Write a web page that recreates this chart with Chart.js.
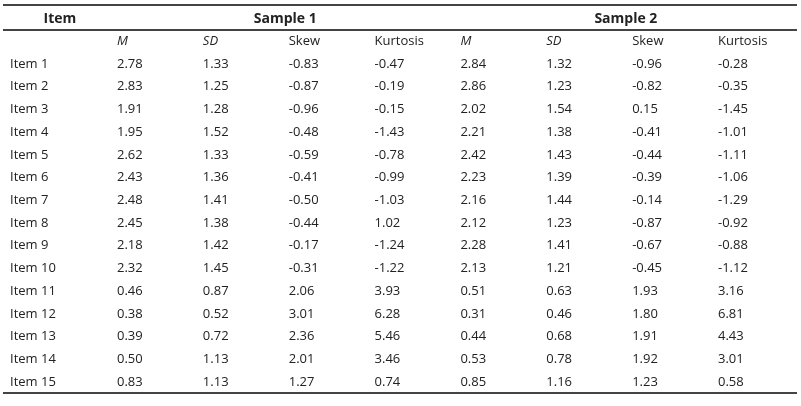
<!DOCTYPE html>
<html lang="en">
<head>
  <meta charset="UTF-8">
  <title>Item Statistics</title>
  <script src="https://cdn.jsdelivr.net/npm/chart.js"></script>
  <style>
    body {
      margin: 0;
      padding: 0;
      background: #ffffff;
    }

    .wrap {
      width: 801px;
      height: 406px;
      position: relative;
    }
  </style>
</head>
<body>
  <div class="wrap">
    <canvas id="tableChart"></canvas>
  </div>

  <script>
    // Row labels
    const items = ["Item 1", "Item 2", "Item 3", "Item 4", "Item 5", "Item 6", "Item 7", "Item 8",
      "Item 9", "Item 10", "Item 11", "Item 12", "Item 13", "Item 14", "Item 15"];

    // Column headers
    const groupHeaders = ["Sample 1", "Sample 2"];
    const statHeaders = ["M", "SD", "Skew", "Kurtosis"];

    // Sample 1
    const s1M = [2.78, 2.83, 1.91, 1.95, 2.62, 2.43, 2.48, 2.45, 2.18, 2.32, 0.46, 0.38, 0.39, 0.50, 0.83];
    const s1SD = [1.33, 1.25, 1.28, 1.52, 1.33, 1.36, 1.41, 1.38, 1.42, 1.45, 0.87, 0.52, 0.72, 1.13, 1.13];
    const s1Skew = [-0.83, -0.87, -0.96, -0.48, -0.59, -0.41, -0.50, -0.44, -0.17, -0.31, 2.06, 3.01, 2.36, 2.01, 1.27];
    const s1Kurt = [-0.47, -0.19, -0.15, -1.43, -0.78, -0.99, -1.03, 1.02, -1.24, -1.22, 3.93, 6.28, 5.46, 3.46, 0.74];

    // Sample 2
    const s2M = [2.84, 2.86, 2.02, 2.21, 2.42, 2.23, 2.16, 2.12, 2.28, 2.13, 0.51, 0.31, 0.44, 0.53, 0.85];
    const s2SD = [1.32, 1.23, 1.54, 1.38, 1.43, 1.39, 1.44, 1.23, 1.41, 1.21, 0.63, 0.46, 0.68, 0.78, 1.16];
    const s2Skew = [-0.96, -0.82, 0.15, -0.41, -0.44, -0.39, -0.14, -0.87, -0.67, -0.45, 1.93, 1.80, 1.91, 1.92, 1.23];
    const s2Kurt = [-0.28, -0.35, -1.45, -1.01, -1.11, -1.06, -1.29, -0.92, -0.88, -1.12, 3.16, 6.81, 4.43, 3.01, 0.58];

    const columns = [s1M, s1SD, s1Skew, s1Kurt, s2M, s2SD, s2Skew, s2Kurt];

    // Layout in scale units (x: column index, y: row index)
    const X_MIN = -1.3627, X_MAX = 7.9668;
    const Y_MIN = -1.8186, Y_MAX = 16.0585;
    const ITEM_X = -1.246;
    const ITEM_HEAD_X = -0.665;
    const GROUP_X = [1.96, 5.927];
    const RULE_LEFT = -1.328, RULE_RIGHT = 7.92;

    const textColor = "#222";
    const ruleColor = "#444";
    const bodyFont = "13px 'Open Sans', sans-serif";
    const italicFont = "italic 13px 'Open Sans', sans-serif";
    const boldFont = "bold 14px 'Open Sans', sans-serif";

    // One scatter dataset per text column; the plugin writes the text at each point
    function textSet(points, texts, font, align) {
      return {
        type: "scatter",
        data: points,
        cellText: texts,
        cellFont: font,
        cellAlign: align,
        pointRadius: 0,
        pointHoverRadius: 0,
      };
    }

    function ruleSet(y, width) {
      return {
        type: "line",
        data: [{ x: RULE_LEFT, y: y }, { x: RULE_RIGHT, y: y }],
        borderColor: ruleColor,
        borderWidth: width,
        pointRadius: 0,
        pointHoverRadius: 0,
        fill: false,
      };
    }

    const datasets = [];

    // Headers
    datasets.push(textSet([{ x: ITEM_HEAD_X, y: -1 }], ["Item"], boldFont, "center"));
    datasets.push(textSet(GROUP_X.map(x => ({ x: x, y: -1 })), groupHeaders, boldFont, "center"));

    // Sub headers (M and SD italic)
    const italicPts = [], italicTxt = [], plainPts = [], plainTxt = [];
    for (let c = 0; c < columns.length; c++) {
      const h = statHeaders[c % 4];
      if (h === "M" || h === "SD") {
        italicPts.push({ x: c, y: 0 });
        italicTxt.push(h);
      } else {
        plainPts.push({ x: c, y: 0 });
        plainTxt.push(h);
      }
    }
    datasets.push(textSet(italicPts, italicTxt, italicFont, "left"));
    datasets.push(textSet(plainPts, plainTxt, bodyFont, "left"));

    // Item names
    datasets.push(textSet(items.map((_, i) => ({ x: ITEM_X, y: i + 1 })), items, bodyFont, "left"));

    // Values
    columns.forEach((col, c) => {
      datasets.push(textSet(
        col.map((_, i) => ({ x: c, y: i + 1 })),
        col.map(v => v.toFixed(2)),
        bodyFont,
        "left"
      ));
    });

    // Rules
    datasets.push(ruleSet(-1.6, 2));
    datasets.push(ruleSet(-0.495, 2));
    datasets.push(ruleSet(15.49, 2));

    const cellTextPlugin = {
      id: "cellText",
      afterDatasetsDraw(chart) {
        const ctx = chart.ctx;
        ctx.save();
        ctx.fillStyle = textColor;
        ctx.textBaseline = "middle";
        chart.data.datasets.forEach((ds, di) => {
          if (!ds.cellText) return;
          const meta = chart.getDatasetMeta(di);
          ctx.font = ds.cellFont;
          ctx.textAlign = ds.cellAlign;
          meta.data.forEach((pt, i) => {
            ctx.fillText(ds.cellText[i], pt.x, pt.y);
          });
        });
        ctx.restore();
      }
    };

    new Chart(document.getElementById("tableChart"), {
      type: "scatter",
      data: { datasets: datasets },
      options: {
        responsive: true,
        maintainAspectRatio: false,
        animation: false,
        events: [],
        layout: { padding: 0 },
        plugins: {
          legend: { display: false },
          tooltip: { enabled: false },
        },
        scales: {
          x: { type: "linear", min: X_MIN, max: X_MAX, display: false },
          y: { type: "linear", min: Y_MIN, max: Y_MAX, reverse: true, display: false },
        },
      },
      plugins: [cellTextPlugin],
    });
  </script>
</body>
</html>
